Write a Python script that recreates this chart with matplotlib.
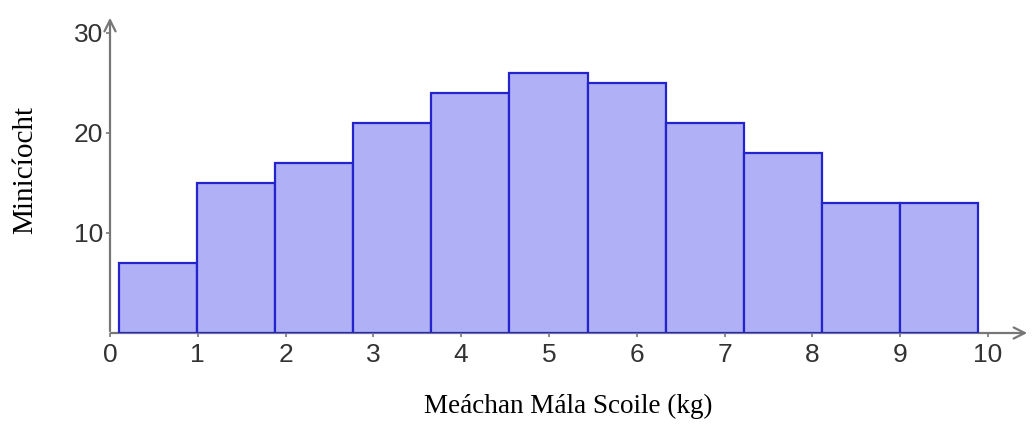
import matplotlib.pyplot as plt

# histogram data (GeoGebra style bins)
bin_edges = [0.1, 0.99, 1.88, 2.77, 3.66, 4.55, 5.44, 6.33, 7.22, 8.11, 9.0, 9.89]
freqs = [7, 15, 17, 21, 24, 26, 25, 21, 18, 13, 13]
x_ticks = [0, 1, 2, 3, 4, 5, 6, 7, 8, 9, 10]
y_ticks = [10, 20, 30]

fig = plt.figure(figsize=(10.35, 4.26), dpi=100)
ax = fig.add_axes([110 / 1035, 93 / 426, 920 / 1035, 318 / 426])

lefts = bin_edges[:-1]
widths = [b - a for a, b in zip(bin_edges[:-1], bin_edges[1:])]
ax.bar(lefts, freqs, width=widths, align="edge",
       facecolor="#b0b0f7", edgecolor="#2424cc", linewidth=1.6, zorder=2)

ax.set_xlim(0, 10.48)
ax.set_ylim(0, 31.8)

for s in ax.spines.values():
    s.set_visible(False)

axis_col = "#777777"
ax.annotate("", xy=(1.0, 0), xytext=(-0.002, 0), xycoords="axes fraction",
            arrowprops=dict(arrowstyle="->", color=axis_col, lw=1.6,
                            mutation_scale=20), zorder=1)
ax.annotate("", xy=(0, 1.0), xytext=(0, -0.003), xycoords="axes fraction",
            arrowprops=dict(arrowstyle="->", color=axis_col, lw=1.6,
                            mutation_scale=20), zorder=1)

ax.set_xticks(x_ticks)
ax.set_yticks(y_ticks)
ax.tick_params(axis="both", colors=axis_col, length=3, width=1.2,
               labelcolor="#333333", labelsize=19)
ax.tick_params(axis="x", pad=4)
ax.tick_params(axis="y", pad=2)
for lab in ax.get_xticklabels() + ax.get_yticklabels():
    lab.set_fontfamily("Liberation Sans")

fig.text(568 / 1035, 20 / 426, "Meáchan Mála Scoile (kg)", ha="center",
         va="center", fontsize=19.5, family="Liberation Serif")
fig.text(25 / 1035, 256 / 426, "Minicíocht", ha="center", va="center",
         rotation=90, fontsize=21, family="Liberation Serif")

fig.savefig("out.png", dpi=100)
